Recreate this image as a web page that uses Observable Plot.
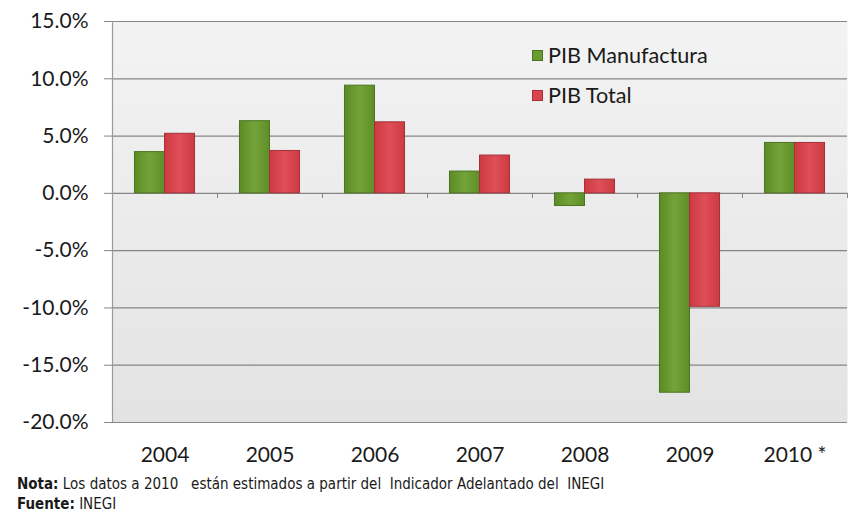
<!DOCTYPE html>
<html>
<head>
<meta charset="utf-8">
<script src="https://cdn.jsdelivr.net/npm/d3@7"></script>
<script src="https://cdn.jsdelivr.net/npm/@observablehq/plot@0.6"></script>
<style>
  html, body { margin: 0; padding: 0; background: #fff; }
  #wrap { position: relative; width: 863px; height: 514px; overflow: hidden; }
  .leg { position: absolute; left: 532px; display: flex; align-items: center; height: 24px;
         font-family: Lato, sans-serif; font-size: 21.6px; color: #1a1a1a; }
  .sw { width: 9px; height: 9px; margin-right: 5px; border: 1px solid; }
  #notes { position: absolute; left: 17px; top: 474px; font-family: "Liberation Sans Narrow", "DejaVu Sans Condensed", sans-serif;
           font-size: 15px; line-height: 20px; color: #1a1a1a; }
</style>
</head>
<body>
<svg width="0" height="0" style="position:absolute">
  <defs>
    <linearGradient id="bg" x1="0" y1="0" x2="0" y2="1">
      <stop offset="0%" stop-color="#f3f3f3"/>
      <stop offset="100%" stop-color="#e3e3e3"/>
    </linearGradient>
    <linearGradient id="gGreen" x1="0" y1="0" x2="1" y2="0">
      <stop offset="0%" stop-color="#5c8b25"/>
      <stop offset="50%" stop-color="#73a338"/>
      <stop offset="100%" stop-color="#5e8e27"/>
    </linearGradient>
    <linearGradient id="gRed" x1="0" y1="0" x2="1" y2="0">
      <stop offset="0%" stop-color="#cc3941"/>
      <stop offset="50%" stop-color="#df4f57"/>
      <stop offset="100%" stop-color="#cd3a42"/>
    </linearGradient>
  </defs>
</svg>
<div id="wrap">
  <div id="chart"></div>
  <div class="leg" style="top:43px"><span class="sw" style="background:#6b9a2e;border-color:#4c7320"></span>PIB Manufactura</div>
  <div class="leg" style="top:83px"><span class="sw" style="background:#d94450;border-color:#a3303a"></span>PIB Total</div>
  <div id="notes">
    <div><b>Nota:</b> Los datos a 2010&nbsp;&nbsp; están estimados a partir del&nbsp; Indicador Adelantado del&nbsp; INEGI</div>
    <div><b>Fuente:</b> INEGI</div>
  </div>
</div>
<script>
const years = ["2004", "2005", "2006", "2007", "2008", "2009", "2010 *"];
const pibManufactura = [3.6, 6.3, 9.4, 1.9, -1.1, -17.4, 4.4];
const pibTotal = [5.2, 3.7, 6.2, 3.3, 1.2, -9.9, 4.4];
const yTicks = [-20, -15, -10, -5, 0, 5, 10, 15];

const idx = years.map((_, i) => i);
const manuData = idx.map(i => ({i, year: years[i], value: pibManufactura[i]}));
const totalData = idx.map(i => ({i, year: years[i], value: pibTotal[i]}));
const boundaries = idx.map(i => i + 0.5);
const half = 0.286; // bar width in category units

const chart = Plot.plot({
  width: 863,
  height: 470,
  marginLeft: 112,
  marginRight: 16,
  marginTop: 21,
  marginBottom: 48,
  style: {fontFamily: "Lato, sans-serif", background: "transparent", color: "#1a1a1a"},
  x: {domain: [-0.5, years.length - 0.5], axis: null},
  y: {domain: [-20, 15], axis: null},
  marks: [
    Plot.frame({fill: "url(#bg)", stroke: null}),
    Plot.ruleY(yTicks, {stroke: "#858585", strokeWidth: 1.2}),
    Plot.ruleX([-0.5], {stroke: "#9a9a9a", strokeWidth: 1.2}),
    Plot.ruleX(boundaries, {y1: 0, y2: -0.45, stroke: "#858585"}),
    Plot.rectY(manuData, {x1: d => d.i - half, x2: d => d.i, y: "value", fill: "url(#gGreen)", stroke: "#4c7320", strokeWidth: 1}),
    Plot.rectY(totalData, {x1: d => d.i, x2: d => d.i + half, y: "value", fill: "url(#gRed)", stroke: "#a3303a", strokeWidth: 1}),
    Plot.axisY({ticks: yTicks, tickSize: 8, tickPadding: 16, tickFormat: d => d.toFixed(1) + "%", label: null,
                fontSize: 21, stroke: "#858585", fill: "#1a1a1a"}),
    Plot.axisX({ticks: idx, tickFormat: i => years[i], tickSize: 0, tickPadding: 25, label: null, fontSize: 21, fill: "#1a1a1a"})
  ]
});
document.getElementById("chart").appendChild(chart);
</script>
</body>
</html>
